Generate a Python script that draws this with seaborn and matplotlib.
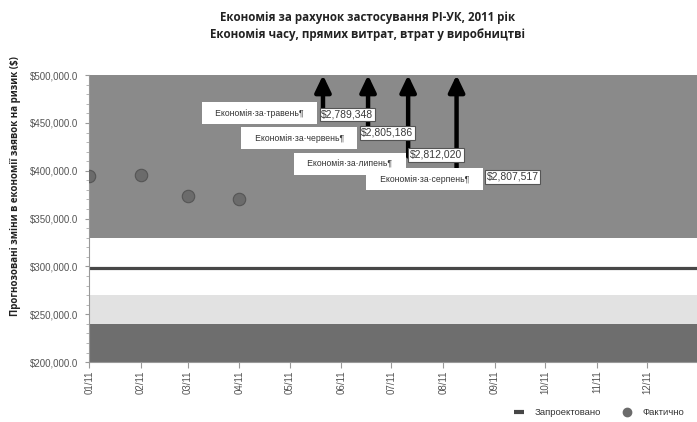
import matplotlib
matplotlib.use("Agg")
import matplotlib.pyplot as plt
import matplotlib.dates as mdates
import matplotlib.ticker as mticker
import numpy as np
import pandas as pd
import seaborn as sns

# ---------------- data ----------------
title_lines = ["Економія за рахунок застосування PI-УК, 2011 рік",
               "Економія часу, прямих витрат, втрат у виробництві"]
y_label = "Прогнозовані зміни в економії заявок на ризик ($)"

actual_dates = ["2011-01-01", "2011-02-01", "2011-03-01", "2011-04-01"]
actual_values = [395000, 396000, 374000, 370000]

projected_value = 298000

band_edges = [200000, 240000, 270000, 330000, 500000]
band_colors = ["#6e6e6e", "#e2e2e2", "#ffffff", "#8a8a8a"]

savings_labels = ["Економія·за·травень¶", "Економія·за·червень¶",
                  "Економія·за·липень¶", "Економія·за·серпень¶"]
savings_values = [2789348, 2805186, 2812020, 2807517]
savings_arrow_dates = ["2011-05-21", "2011-06-17", "2011-07-11", "2011-08-09"]

month_ticks = pd.date_range("2011-01-01", "2011-12-01", freq="MS")
legend_labels = ["Запроектовано", "Фактично"]

# ---------------- style ----------------
sns.set_style("white")
plt.rcParams["font.family"] = ["Liberation Sans", "DejaVu Sans"]

fig = plt.figure(figsize=(6.97, 4.22), dpi=100)
ax = fig.add_axes([0.128, 0.142, 0.872, 0.680])

y_min, y_max = 200000, 500000
x_min, x_max = pd.Timestamp("2011-01-01"), pd.Timestamp("2011-12-31")

# background bands
for lo, hi, c in zip(band_edges[:-1], band_edges[1:], band_colors):
    ax.axhspan(lo, hi, color=c, zorder=0, lw=0)

# projected line
ax.axhline(projected_value, color="#474747", lw=2.3, zorder=2)

# actual points
df = pd.DataFrame({"date": pd.to_datetime(actual_dates), "value": actual_values})
sns.scatterplot(data=df, x="date", y="value", ax=ax, s=80, color="#6b6b6b",
                edgecolor="#555555", linewidth=0.8, zorder=3, legend=False)

# savings arrows (values off the chart -> arrow to top)
arrow_starts = [460000, 435000, 415000, 395000]
for d, start, v in zip(savings_arrow_dates, arrow_starts, savings_values):
    dt = pd.Timestamp(d)
    ax.annotate("", xy=(dt, min(v, y_max)), xytext=(dt, start),
                arrowprops=dict(arrowstyle="-|>,head_width=0.48,head_length=1.0",
                                lw=3.2, color="black", shrinkA=0, shrinkB=0,
                                mutation_scale=10),
                annotation_clip=False, zorder=4)

# label boxes
anchor_dates = ["2011-05-18", "2011-06-11", "2011-07-10", "2011-08-25"]
label_y = [460000, 434000, 407500, 391000]
value_y = [459000, 439500, 416500, 393500]
for lab, v, d, ly, vy in zip(savings_labels, savings_values, anchor_dates, label_y, value_y):
    dt = pd.Timestamp(d)
    ax.annotate("   " + lab + "   ", xy=(dt, ly), xytext=(-5.2, 0), textcoords="offset points",
                ha="right", va="center", fontsize=6.2, color="#333333",
                bbox=dict(boxstyle="square,pad=0.75", fc="white", ec="none"),
                zorder=5)
    ax.annotate(f"${v:,}", xy=(dt, vy), xytext=(2.4, 0), textcoords="offset points",
                ha="left", va="center", fontsize=7.5, color="#3a3a3a",
                bbox=dict(boxstyle="square,pad=0.15", fc="white", ec="#555555", lw=0.8),
                zorder=6)

# axes formatting
ax.set_xlim(x_min, x_max)
ax.set_ylim(y_min, y_max)
ax.set_xticks(month_ticks)
ax.xaxis.set_major_formatter(mdates.DateFormatter("%m/%y"))
ax.yaxis.set_major_locator(mticker.MultipleLocator(50000))
ax.yaxis.set_minor_locator(mticker.MultipleLocator(10000))
ax.yaxis.set_major_formatter(mticker.FuncFormatter(lambda v, p: f"${v:,.1f}"))
ax.tick_params(axis="x", rotation=90, labelsize=7, labelcolor="#555555",
               bottom=True, length=4, color="#999999", width=0.8, pad=2)
ax.tick_params(axis="y", which="major", labelsize=7, labelcolor="#555555",
               left=True, length=3, color="#999999", width=0.8, pad=5)
ax.tick_params(axis="y", which="minor", left=True, length=2, color="#aaaaaa", width=0.6)
for s in ["top", "right"]:
    ax.spines[s].set_visible(False)
for s in ["left", "bottom"]:
    ax.spines[s].set_color("#999999")
    ax.spines[s].set_linewidth(0.8)
ax.set_xlabel("")
ax.set_ylabel(y_label, fontsize=7.0, fontweight="bold", color="#222222",
              family=["Open Sans", "DejaVu Sans"])
ax.yaxis.set_label_coords(-0.113, 0.613)

# titles
fig.text(0.528, 0.958, title_lines[0], ha="center", va="center", fontsize=8.3,
         fontweight="bold", color="#222222", family=["Open Sans", "DejaVu Sans"])
fig.text(0.528, 0.918, title_lines[1], ha="center", va="center", fontsize=8.3,
         fontweight="bold", color="#222222", family=["Open Sans", "DejaVu Sans"])

# legend
h1 = plt.Line2D([], [], color="#474747", lw=3, solid_capstyle="butt")
h2 = plt.Line2D([], [], ls="none", marker="o", markersize=6, color="#6b6b6b")
fig.legend([h1, h2], legend_labels, loc="center", bbox_to_anchor=(0.86, 0.022),
           ncol=2, frameon=False, fontsize=6.8, handlelength=1.0, columnspacing=2.2,
           handletextpad=1.2, labelcolor="#333333")

fig.savefig("out.png", dpi=100)
